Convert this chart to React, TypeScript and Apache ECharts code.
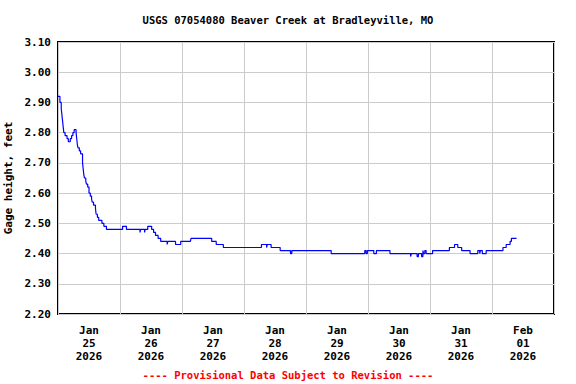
import React, { useEffect, useRef } from "react";
import * as echarts from "echarts";

// hours since 2026-01-25 00:00 (local), step changes
const hours: number[] = [
  0, 0.75, 1.25, 1.5, 1.75, 2, 2.25, 2.75, 3.5, 4, 4.75, 5.25, 5.75, 6.25, 7, 7.25, 7.5, 7.75, 8.25, 8.75,
  9.5, 9.75, 10, 10.25, 10.75, 11, 11.5, 12, 12.5, 13, 13.25, 13.75, 14.5, 14.75, 15.25, 15.75, 17, 17.75, 18.75,
  25, 26.5, 31.75, 32, 33.5, 33.75, 34.75, 36.25, 37, 37.75, 38.75, 39.75, 42.25, 42.5, 45.5, 47.5, 51.25, 51.5,
  59.5, 61.25, 64, 78.75, 80.75, 81, 82.5, 86, 86.5, 90, 90.5,
  105.75, 118.75, 119.25, 119.75, 122.25, 123.25, 128.5,
  136.5, 136.75, 139, 139.5, 140.75, 141.25, 141.5, 142, 142.5, 145, 151.5, 153.5, 154.75, 156.25, 159.5,
  162.5, 163.25, 163.5, 164.25, 165.75, 172.25, 173.5, 175, 175.5, 177.5,
];
const gage: number[] = [
  2.92, 2.9, 2.88, 2.86, 2.84, 2.82, 2.8, 2.79, 2.78, 2.77, 2.78, 2.79, 2.8, 2.81, 2.8, 2.78, 2.76, 2.75, 2.74, 2.73,
  2.7, 2.68, 2.66, 2.65, 2.64, 2.63, 2.62, 2.6, 2.59, 2.58, 2.57, 2.56, 2.55, 2.53, 2.52, 2.51, 2.5, 2.49, 2.48,
  2.49, 2.48, 2.47, 2.48, 2.47, 2.48, 2.49, 2.48, 2.47, 2.46, 2.45, 2.44, 2.43, 2.44, 2.43, 2.44, 2.44, 2.45,
  2.44, 2.43, 2.42, 2.43, 2.42, 2.43, 2.42, 2.41, 2.41, 2.4, 2.41,
  2.4, 2.41, 2.4, 2.41, 2.4, 2.41, 2.4,
  2.39, 2.4, 2.39, 2.4, 2.39, 2.41, 2.4, 2.41, 2.4, 2.41, 2.42, 2.43, 2.42, 2.41, 2.4,
  2.41, 2.4, 2.41, 2.4, 2.41, 2.42, 2.43, 2.44, 2.45, 2.45,
];
const dayLabels: string[] = [
  "Jan\n25\n2026", "Jan\n26\n2026", "Jan\n27\n2026", "Jan\n28\n2026",
  "Jan\n29\n2026", "Jan\n30\n2026", "Jan\n31\n2026", "Feb\n01\n2026",
];
const titleText = "USGS 07054080 Beaver Creek at Bradleyville, MO";
const footerText = "---- Provisional Data Subject to Revision ----";
const yName = "Gage height, feet";

const FONT = "'DejaVu Sans Mono', monospace";

export default function App() {
  const ref = useRef<HTMLDivElement>(null);
  useEffect(() => {
    document.body.style.margin = "0";
    if (!ref.current) return;
    const chart = echarts.init(ref.current, null, { renderer: "svg" });
    const data = hours.map((h, i) => [h, gage[i]]);
    chart.setOption({
      animation: false,
      backgroundColor: "#ffffff",
      title: [
        {
          text: titleText,
          left: "center",
          top: 9,
          textStyle: { fontFamily: FONT, fontWeight: "bold", fontSize: 10.5, color: "#000" },
        },
        {
          text: footerText,
          left: "center",
          top: 364,
          textStyle: { fontFamily: FONT, fontWeight: "bold", fontSize: 10.5, color: "#ff0000" },
        },
      ],
      grid: {
        left: 58,
        right: 22,
        top: 42,
        bottom: 70,
        show: true,
        borderColor: "#000",
        borderWidth: 2,
        backgroundColor: "transparent",
        outerBoundsMode: "none",
        containLabel: false,
      },
      xAxis: [
        {
          type: "value",
          min: 0,
          max: 192,
          interval: 24,
          axisLine: { show: false },
          axisTick: { show: false },
          axisLabel: { show: false },
          splitLine: { show: true, lineStyle: { color: "#cccccc", width: 1 } },
        },
        {
          type: "category",
          data: dayLabels,
          boundaryGap: true,
          position: "bottom",
          axisLine: { show: false },
          axisTick: { show: false },
          splitLine: { show: false },
          axisLabel: {
            margin: 10,
            fontFamily: FONT,
            fontWeight: "bold",
            fontSize: 11,
            color: "#000",
            lineHeight: 13,
            interval: 0,
          },
        },
      ],
      yAxis: {
        type: "value",
        min: 2.2,
        max: 3.1,
        interval: 0.1,
        name: yName,
        nameLocation: "middle",
        nameRotate: 90,
        nameGap: 34,
        nameTextStyle: { fontFamily: FONT, fontWeight: "bold", fontSize: 11, color: "#000" },
        axisLine: { show: false },
        axisTick: { show: false },
        axisLabel: {
          margin: 7,
          fontFamily: FONT,
          fontWeight: "bold",
          fontSize: 11,
          color: "#000",
          formatter: (v: number) => v.toFixed(2),
        },
        splitLine: { show: true, lineStyle: { color: "#cccccc", width: 1 } },
      },
      series: [
        {
          type: "line",
          xAxisIndex: 0,
          data,
          step: "end",
          showSymbol: false,
          lineStyle: { color: "#0000ff", width: 1.2 },
          z: 5,
        },
      ],
    });
    return () => chart.dispose();
  }, []);
  return <div ref={ref} style={{ width: 576, height: 384 }} />;
}
